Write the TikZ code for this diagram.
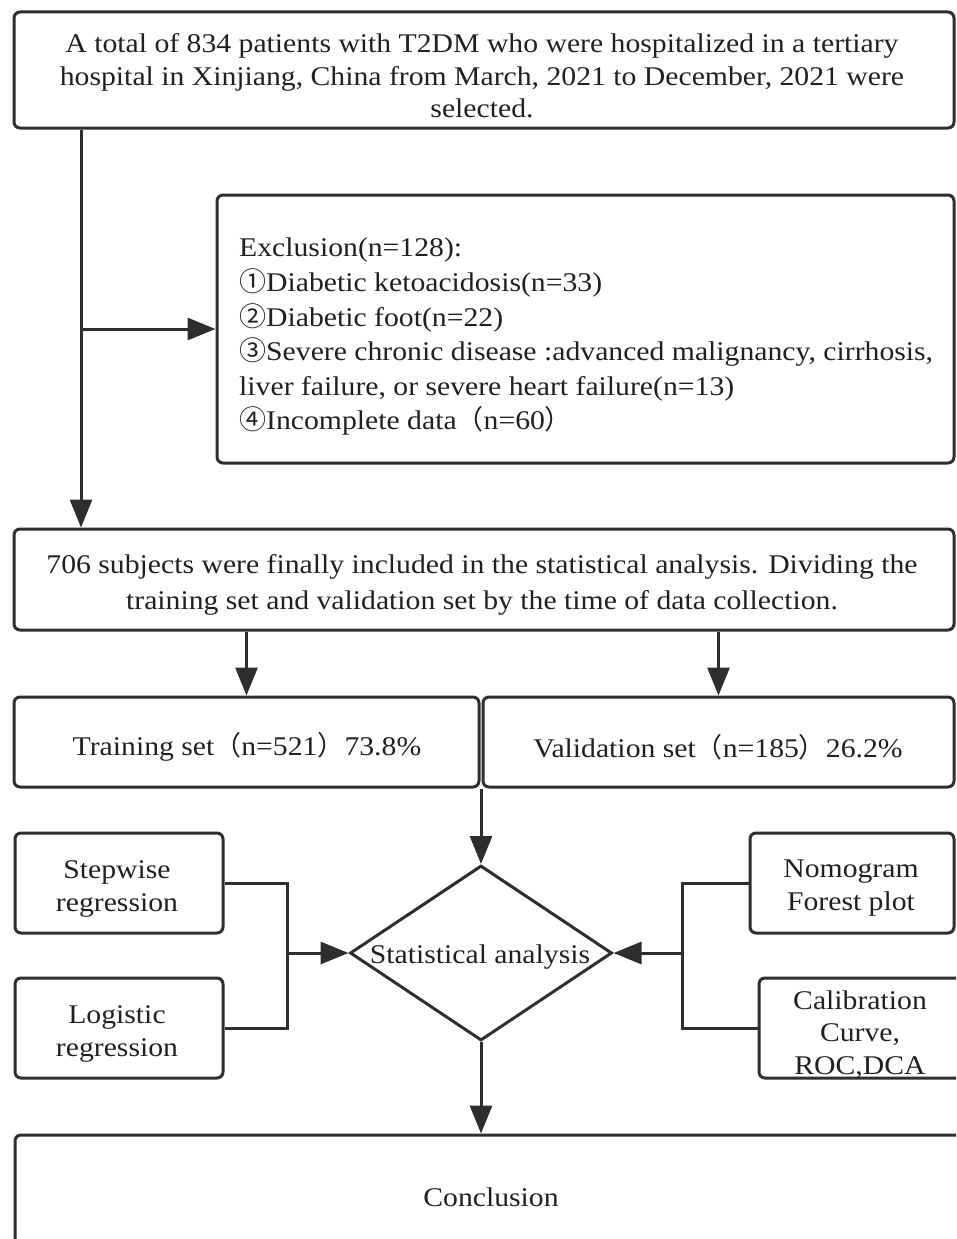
\documentclass[tikz,border=0pt]{standalone}
\usepackage{fontspec}
\setmainfont{Liberation Serif}[FakeStretch=1.1]
\newfontfamily\cjk{Noto Sans CJK SC}
\usetikzlibrary{arrows.meta,shapes.geometric}
\definecolor{ln}{HTML}{2E2E2E}
\definecolor{tx}{HTML}{202020}
\tikzset{
  box/.style={draw=ln, line width=3pt, rounded corners=6pt, inner sep=0pt},
  txt/.style={inner sep=0pt, align=center, text=tx, font=\fontsize{27}{33}\selectfont},
  link/.style={draw=ln, line width=3pt},
  arr/.style={link, -{Triangle[length=28pt,width=22pt]}},
}
\newcommand{\fp}[1]{{\cjk #1}}
\begin{document}
\begin{tikzpicture}[x=1pt,y=-1pt]
\useasboundingbox (0,0) rectangle (956,1239);
\begin{scope}
\clip (0,0) rectangle (956,1239);
% boxes
\node[box, minimum width=940pt, minimum height=116pt] (top) at (484,70) {};
\node[txt, font=\fontsize{27}{32.5}\selectfont] (topT) at (482,76)
  {A total of 834 patients with T2DM who were hospitalized in a tertiary\\
   hospital in Xinjiang, China from March, 2021 to December, 2021 were\\
   selected.};
\node[box, minimum width=737pt, minimum height=268pt] (excl) at (585.5,329) {};
\node[txt, anchor=west, align=left, font=\fontsize{27}{34.6}\selectfont] (exclT) at (239,337)
  {Exclusion(n=128):\\
   \fp{①}Diabetic ketoacidosis(n=33)\\
   \fp{②}Diabetic foot(n=22)\\
   \fp{③}Severe chronic disease :advanced malignancy, cirrhosis,\\
   liver failure, or severe heart failure(n=13)\\
   \fp{④}Incomplete data\fp{（}n=60\fp{）}};
\node[box, minimum width=940pt, minimum height=101pt] (incl) at (484,579.5) {};
\node[txt, font=\fontsize{27}{36}\selectfont] (inclT) at (482,585)
  {706 subjects were finally included in the statistical analysis. Dividing the\\
   training set and validation set by the time of data collection.};
\node[box, minimum width=465pt, minimum height=90pt] (train) at (246.5,742) {};
\node[txt] (trainT) at (247,747) {Training set\fp{（}n=521\fp{）}73.8\%};
\node[box, minimum width=471pt, minimum height=90pt] (valid) at (718.5,742) {};
\node[txt] (validT) at (718,747) {Validation set\fp{（}n=185\fp{）}26.2\%};
\node[box, minimum width=208pt, minimum height=100pt] (sw) at (119,883) {};
\node[txt] (swT) at (117,888.5) {Stepwise\\regression};
\node[box, minimum width=208pt, minimum height=100pt] (lg) at (119,1028) {};
\node[txt] (lgT) at (117,1033.5) {Logistic\\regression};
\node[box, minimum width=204pt, minimum height=100pt] (nomo) at (852,883) {};
\node[txt] (nomoT) at (851,888.5) {Nomogram\\Forest plot};
\node[box, minimum width=206pt, minimum height=100pt] (cal) at (862,1028) {};
\node[txt, font=\fontsize{27}{32.5}\selectfont] (calT) at (860,1034.5) {Calibration\\Curve,\\ROC,DCA};
\node[box, shape=diamond, rounded corners=0pt, minimum width=262pt, minimum height=175pt] (diam) at (481,953) {};
\node[txt] (diamT) at (480,957) {Statistical analysis};
\node[box, minimum width=950pt, minimum height=125pt] (concl) at (490,1197.5) {};
\node[txt] (conclT) at (491,1197) {Conclusion};
% connectors
\coordinate (c1) at (81,329);
\draw[arr] (top.south -| c1) -- (incl.north -| c1);
\draw[arr] (c1) -- (excl.west);
\draw[arr] (incl.south -| train) -- (train.north);
\draw[arr] (incl.south -| valid) -- (valid.north);
\draw[arr] (diam.north |- train.south) -- (diam.north);
\coordinate (lj) at (287,953);
\coordinate (rj) at (682,953);
\draw[link] (sw.east) -| (lj) |- (lg.east);
\draw[arr] (lj) -- (diam.west);
\draw[link] (nomo.west) -| (rj) |- (cal.west);
\draw[arr] (rj) -- (diam.east);
\draw[arr] (diam.south) -- (diam.south |- concl.north);
\end{scope}
\end{tikzpicture}
\end{document}
